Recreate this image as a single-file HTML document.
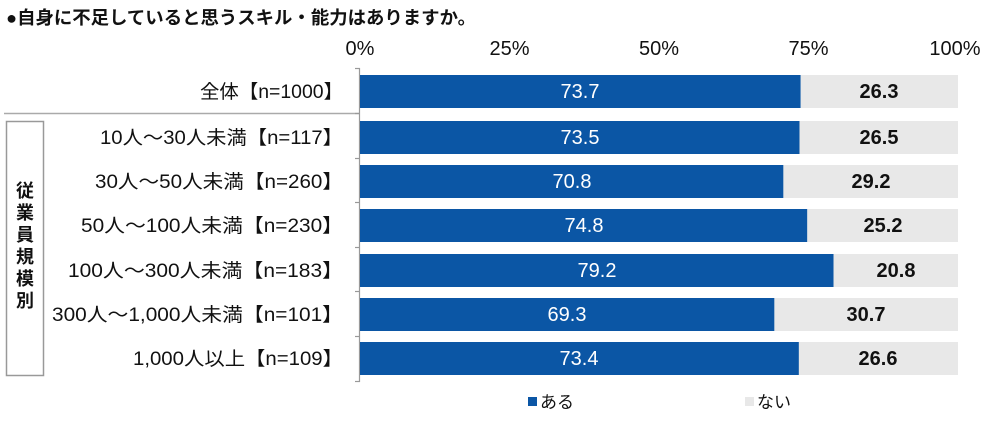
<!DOCTYPE html><html><head><meta charset="utf-8"><style>
body{margin:0;width:1000px;height:416px;background:#fff;font-family:"Liberation Sans","Noto Sans CJK JP",sans-serif;overflow:hidden}
</style></head><body>
<svg width="1000" height="416" xmlns="http://www.w3.org/2000/svg" font-family="Liberation Sans, Noto Sans CJK JP, sans-serif">
<text x="6" y="24" font-size="18" font-weight="bold" fill="#111" textLength="470" lengthAdjust="spacingAndGlyphs">●自身に不足していると思うスキル・能力はありますか。</text>
<g font-size="20" fill="#111" text-anchor="middle">
<text x="360" y="55">0%</text><text x="509.5" y="55">25%</text><text x="659" y="55">50%</text><text x="808.5" y="55">75%</text><text x="955" y="55">100%</text>
</g>
<line x1="4" y1="113.5" x2="360" y2="113.5" stroke="#aaa" stroke-width="1.5"/>
<rect x="6.5" y="121.5" width="37" height="254" fill="#fff" stroke="#999" stroke-width="1.5"/>
<text x="25" y="197" font-size="18" font-weight="bold" text-anchor="middle" fill="#111"><tspan x="25">従</tspan><tspan x="25" dy="22">業</tspan><tspan x="25" dy="22">員</tspan><tspan x="25" dy="22">規</tspan><tspan x="25" dy="22">模</tspan><tspan x="25" dy="22">別</tspan></text>
<line x1="359.5" y1="68" x2="359.5" y2="382" stroke="#999" stroke-width="1.2"/>
<g stroke="#999" stroke-width="1.2">
<line x1="355" y1="68.5" x2="360" y2="68.5"/><line x1="355" y1="113.5" x2="360" y2="113.5"/><line x1="355" y1="158.5" x2="360" y2="158.5"/><line x1="355" y1="202.5" x2="360" y2="202.5"/><line x1="355" y1="247.5" x2="360" y2="247.5"/><line x1="355" y1="291.5" x2="360" y2="291.5"/><line x1="355" y1="336.5" x2="360" y2="336.5"/><line x1="355" y1="381.5" x2="360" y2="381.5"/>
</g>
<g font-size="19" fill="#111" lengthAdjust="spacingAndGlyphs">
<text x="200" y="98" textLength="143" lengthAdjust="spacingAndGlyphs">全体【n=1000】</text>
<text x="100" y="144" textLength="243" lengthAdjust="spacingAndGlyphs">10人～30人未満【n=117】</text>
<text x="95" y="188" textLength="248" lengthAdjust="spacingAndGlyphs">30人～50人未満【n=260】</text>
<text x="81" y="232" textLength="262" lengthAdjust="spacingAndGlyphs">50人～100人未満【n=230】</text>
<text x="68" y="277" textLength="275" lengthAdjust="spacingAndGlyphs">100人～300人未満【n=183】</text>
<text x="52" y="321" textLength="291" lengthAdjust="spacingAndGlyphs">300人～1,000人未満【n=101】</text>
<text x="133" y="365" textLength="210" lengthAdjust="spacingAndGlyphs">1,000人以上【n=109】</text>
</g>
<g>
<rect x="360" y="75" width="440.7" height="33" fill="#0b56a5"/><rect x="800.7" y="75" width="157.3" height="33" fill="#e8e8e8"/>
<rect x="360" y="121" width="439.5" height="33" fill="#0b56a5"/><rect x="799.5" y="121" width="158.5" height="33" fill="#e8e8e8"/>
<rect x="360" y="165" width="423.4" height="33" fill="#0b56a5"/><rect x="783.4" y="165" width="174.6" height="33" fill="#e8e8e8"/>
<rect x="360" y="209" width="447.3" height="33" fill="#0b56a5"/><rect x="807.3" y="209" width="150.7" height="33" fill="#e8e8e8"/>
<rect x="360" y="254" width="473.6" height="33" fill="#0b56a5"/><rect x="833.6" y="254" width="124.4" height="33" fill="#e8e8e8"/>
<rect x="360" y="298" width="414.4" height="33" fill="#0b56a5"/><rect x="774.4" y="298" width="183.6" height="33" fill="#e8e8e8"/>
<rect x="360" y="342" width="438.9" height="33" fill="#0b56a5"/><rect x="798.9" y="342" width="159.1" height="33" fill="#e8e8e8"/>
</g>
<g font-size="20" text-anchor="middle" fill="#fff">
<text x="580" y="98">73.7</text><text x="580" y="144">73.5</text><text x="572" y="188">70.8</text><text x="584" y="232">74.8</text><text x="597" y="277">79.2</text><text x="567" y="321">69.3</text><text x="579" y="365">73.4</text>
</g>
<g font-size="20" font-weight="bold" text-anchor="middle" fill="#111">
<text x="879" y="98">26.3</text><text x="879" y="144">26.5</text><text x="871" y="188">29.2</text><text x="883" y="232">25.2</text><text x="896" y="277">20.8</text><text x="866" y="321">30.7</text><text x="878" y="365">26.6</text>
</g>
<rect x="528" y="397" width="9" height="9" fill="#0b56a5"/><text x="540" y="408" font-size="17" fill="#111">ある</text>
<rect x="745" y="397" width="9" height="9" fill="#e8e8e8"/><text x="757" y="408" font-size="17" fill="#111">ない</text>
</svg>
</body></html>
